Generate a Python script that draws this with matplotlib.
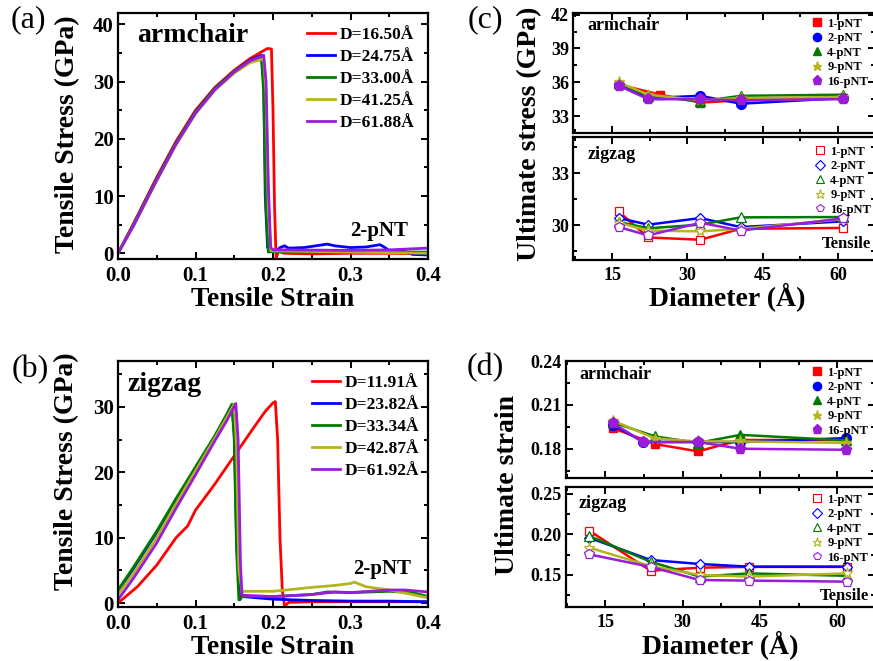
import matplotlib
matplotlib.use('Agg')
import matplotlib.pyplot as plt
from matplotlib.ticker import MultipleLocator, FormatStrFormatter
from matplotlib.lines import Line2D

plt.rcParams['font.family'] = ['Liberation Serif', 'DejaVu Serif']
plt.rcParams['font.weight'] = 'bold'
plt.rcParams['axes.labelweight'] = 'bold'
plt.rcParams['axes.linewidth'] = 1.6

colors = ['#ff0000', '#0000ff', '#007a00', '#b4b41e', '#9a1cd8']

# ---------------- (a) armchair stress-strain ----------------
a_labels = ['D=16.50Å', 'D=24.75Å', 'D=33.00Å', 'D=41.25Å', 'D=61.88Å']
a_strain = [
    [0, 0.02, 0.05, 0.075, 0.1, 0.125, 0.15, 0.17, 0.185, 0.193, 0.198, 0.2, 0.202, 0.204, 0.207, 0.215, 0.25, 0.3, 0.35, 0.4],
    [0, 0.02, 0.05, 0.075, 0.1, 0.125, 0.15, 0.17, 0.185, 0.188, 0.19, 0.193, 0.197, 0.205, 0.209, 0.215, 0.22, 0.24, 0.26, 0.27, 0.28, 0.3, 0.32, 0.338, 0.342, 0.35, 0.37, 0.38, 0.4],
    [0, 0.02, 0.05, 0.075, 0.1, 0.125, 0.15, 0.17, 0.185, 0.188, 0.191, 0.194, 0.198, 0.21, 0.3, 0.4],
    [0, 0.02, 0.05, 0.075, 0.1, 0.125, 0.15, 0.17, 0.188, 0.191, 0.194, 0.197, 0.2, 0.21, 0.3, 0.4],
    [0, 0.02, 0.05, 0.075, 0.1, 0.125, 0.15, 0.17, 0.188, 0.191, 0.194, 0.197, 0.2, 0.21, 0.3, 0.35, 0.4],
]
a_stress = [
    [0, 5.2, 13.3, 19.6, 25.0, 29.0, 32.0, 34.0, 35.2, 35.8, 35.7, 25, 8, -0.8, 0.3, 0.0, -0.1, 0.0, 0.0, -0.1],
    [0, 5.0, 13.0, 19.3, 24.7, 28.8, 31.8, 33.7, 34.6, 30, 10, 1.0, 0.3, 0.5, 1.0, 1.3, 0.9, 1.0, 1.4, 1.6, 1.3, 1.0, 1.1, 1.5, 1.2, 0.5, 0.3, -0.2, -0.3],
    [0, 5.0, 13.0, 19.3, 24.7, 28.8, 31.8, 33.6, 34.3, 28, 8, 0.2, 0.3, 0.3, 0.3, 0.2],
    [0, 4.8, 12.7, 19.0, 24.4, 28.5, 31.5, 33.3, 34.0, 28, 8, 0.5, 0.4, 0.4, 0.2, 0.0],
    [0, 4.8, 12.8, 19.1, 24.5, 28.6, 31.7, 33.6, 34.6, 30, 12, 1.0, 0.6, 0.6, 0.5, 0.6, 0.9],
]

# ---------------- (b) zigzag stress-strain ----------------
b_labels = ['D=11.91Å', 'D=23.82Å', 'D=33.34Å', 'D=42.87Å', 'D=61.92Å']
b_strain = [
    [0, 0.025, 0.05, 0.075, 0.09, 0.1, 0.125, 0.15, 0.175, 0.19, 0.2, 0.203, 0.206, 0.209, 0.212, 0.215, 0.22, 0.25, 0.3, 0.4],
    [0, 0.02, 0.05, 0.075, 0.1, 0.125, 0.14, 0.147, 0.15, 0.153, 0.157, 0.16, 0.2, 0.25, 0.3, 0.35, 0.4],
    [0, 0.02, 0.05, 0.075, 0.1, 0.125, 0.14, 0.147, 0.15, 0.153, 0.156, 0.16, 0.2, 0.25, 0.27, 0.3, 0.35, 0.38, 0.4],
    [0, 0.02, 0.05, 0.075, 0.1, 0.125, 0.14, 0.15, 0.153, 0.156, 0.16, 0.2, 0.25, 0.28, 0.3, 0.305, 0.32, 0.35, 0.38, 0.4],
    [0, 0.02, 0.05, 0.075, 0.1, 0.125, 0.14, 0.152, 0.155, 0.158, 0.16, 0.2, 0.25, 0.28, 0.3, 0.35, 0.37, 0.4],
]
b_stress = [
    [0, 2.5, 5.8, 10.0, 11.8, 14.2, 18.2, 22.5, 26.8, 29.3, 30.6, 30.8, 25, 10, 2, -0.5, 0.1, 0.2, 0.2, 0.2],
    [1.8, 5.3, 10.8, 15.8, 20.6, 25.4, 28.6, 30.2, 26, 10, 0.5, 1.0, 0.6, 0.4, 0.3, 0.3, 0.2],
    [2.0, 5.5, 11.0, 16.0, 20.8, 25.6, 28.8, 30.4, 25, 8, 0.5, 1.0, 1.0, 1.3, 1.7, 1.6, 1.8, 1.6, 1.0],
    [1.3, 4.5, 10.0, 15.2, 20.2, 25.2, 28.3, 30.4, 24, 5, 1.8, 1.8, 2.4, 2.7, 3.0, 3.2, 2.5, 2.0, 1.3, 0.8],
    [0.5, 3.8, 9.2, 14.5, 19.6, 24.8, 27.8, 30.5, 25, 6, 1.2, 1.0, 1.3, 1.7, 1.6, 2.0, 2.0, 1.7],
]

# ---------------- (c) ultimate stress ----------------
pnt_labels = ['1-pNT', '2-pNT', '4-pNT', '9-pNT', '16-pNT']
c_arm_d = [
    [16.3, 24.6, 32.6, 40.6, 61.0],
    [16.3, 22.2, 32.6, 40.6, 61.0],
    [16.3, 22.2, 32.6, 40.6, 61.0],
    [16.3, 22.2, 32.6, 40.6, 61.0],
    [16.3, 22.2, 32.6, 40.6, 61.0],
]
c_arm_stress = [
    [35.8, 34.9, 34.2, 34.4, 34.6],
    [35.8, 34.6, 34.8, 34.1, 34.6],
    [35.9, 34.8, 34.3, 34.8, 34.9],
    [36.0, 34.9, 34.4, 34.6, 34.7],
    [35.7, 34.5, 34.5, 34.4, 34.5],
]
c_zig_d = [16.3, 22.2, 32.6, 40.6, 61.0]
c_zig_stress = [
    [30.8, 29.3, 29.17, 29.8, 29.85],
    [30.42, 30.04, 30.42, 29.9, 30.23],
    [30.2, 29.83, 30.04, 30.46, 30.48],
    [30.15, 29.7, 29.65, 29.8, 30.35],
    [29.9, 29.42, 30.15, 29.7, 30.4],
]

# ---------------- (d) ultimate strain ----------------
d_arm_d = [
    [16.5, 24.7, 33.0, 41.2, 61.7],
    [16.5, 22.4, 33.0, 41.2, 61.7],
    [16.5, 24.7, 33.0, 41.2, 61.7],
    [16.5, 24.7, 33.0, 41.2, 61.7],
    [16.5, 22.4, 33.0, 41.2, 61.7],
]
d_arm_strain = [
    [0.1941, 0.1832, 0.1782, 0.1860, 0.1860],
    [0.1964, 0.1846, 0.1846, 0.1845, 0.1873],
    [0.1980, 0.1884, 0.1840, 0.1895, 0.1857],
    [0.1993, 0.1870, 0.1850, 0.1850, 0.1840],
    [0.1975, 0.1846, 0.1846, 0.1800, 0.1793],
]
d_zig_d = [11.9, 23.8, 33.3, 42.8, 61.9]
d_zig_strain = [
    [0.2047, 0.1553, 0.1590, 0.1600, 0.1600],
    [0.1960, 0.1685, 0.1636, 0.1603, 0.1603],
    [0.1981, 0.1664, 0.1480, 0.1520, 0.1490],
    [0.1837, 0.1610, 0.1500, 0.1480, 0.1520],
    [0.1755, 0.1600, 0.1438, 0.1431, 0.1418],
]

filled_markers = ['s', 'o', '^', '*', 'p']
open_markers = ['s', 'D', '^', '*', 'p']
filled_sizes = [6, 7, 7, 8, 8]
open_sizes = [6, 5.5, 6.5, 8, 7]

W, H = 873, 661
fig = plt.figure(figsize=(W / 100, H / 100), dpi=100)


def add_ax(l, t, r, b):
    return fig.add_axes([l / W, 1 - b / H, (r - l) / W, (b - t) / H])


def style(ax, xmaj, xmin, ymaj, ymin, size):
    ax.xaxis.set_major_locator(MultipleLocator(xmaj))
    ax.xaxis.set_minor_locator(MultipleLocator(xmin))
    ax.yaxis.set_major_locator(MultipleLocator(ymaj))
    ax.yaxis.set_minor_locator(MultipleLocator(ymin))
    ax.tick_params(which='both', direction='in', top=True, right=True, width=1.4, labelsize=size)
    ax.tick_params(axis='x', which='both', pad=5)
    ax.tick_params(axis='y', which='both', pad=3)
    ax.tick_params(which='major', length=5)
    ax.tick_params(which='minor', length=3)


# (a)
axa = add_ax(118, 13, 428, 259)
for s, v, c, lab in zip(a_strain, a_stress, colors, a_labels):
    axa.plot(s, v, color=c, lw=2.0, label=lab)
axa.set_xlim(0, 0.4)
axa.set_ylim(-1, 42)
style(axa, 0.1, 0.05, 10, 5, 15)
axa.xaxis.set_major_formatter(FormatStrFormatter('%.1f'))
axa.legend(loc='upper left', bbox_to_anchor=(0.61, 0.945), frameon=False, fontsize=12.5,
           handlelength=1.6, handletextpad=0.3, labelspacing=0.34, borderpad=0, borderaxespad=0)
axa.text(0.061, 0.882, 'armchair', transform=axa.transAxes, fontsize=20, va='baseline')
axa.text(0.748, 0.0935, '2-pNT', transform=axa.transAxes, fontsize=15, va='baseline')
axa.set_xlabel('Tensile Strain', fontsize=20, labelpad=1)
fig.text(68 / W, 1 - 134 / H, 'Tensile Stress (GPa)', rotation=90, fontsize=20, ha='center', va='center')
fig.text(28 / W, 1 - 20 / H, '(a)', fontsize=23, weight='normal', ha='center', va='center')

# (b)
axb = add_ax(118, 361, 428, 607)
for s, v, c, lab in zip(b_strain, b_stress, colors, b_labels):
    axb.plot(s, v, color=c, lw=2.0, label=lab)
axb.set_xlim(0, 0.4)
axb.set_ylim(-0.6, 37)
style(axb, 0.1, 0.05, 10, 5, 15)
axb.xaxis.set_major_formatter(FormatStrFormatter('%.1f'))
axb.legend(loc='upper left', bbox_to_anchor=(0.625, 0.945), frameon=False, fontsize=12.5,
           handlelength=1.6, handletextpad=0.3, labelspacing=0.34, borderpad=0, borderaxespad=0)
axb.text(0.029, 0.879, 'zigzag', transform=axb.transAxes, fontsize=20, va='baseline')
axb.text(0.758, 0.134, '2-pNT', transform=axb.transAxes, fontsize=15, va='baseline')
axb.set_xlabel('Tensile Strain', fontsize=20, labelpad=1)
fig.text(67 / W, 1 - 471 / H, 'Tensile Stress (GPa)', rotation=90, fontsize=20, ha='center', va='center')
fig.text(30 / W, 1 - 370 / H, '(b)', fontsize=23, weight='normal', ha='center', va='center')


def marker_panel(ax_up, ax_lo, up_x, up_y, lo_x, lo_y, legpos_up, legpos_lo):
    for xs, ys, c, m, ms in zip(up_x, up_y, colors, filled_markers, filled_sizes):
        ax_up.plot(xs, ys, color=c, lw=1.8, marker=m, ms=ms, mfc=c, mec=c)
    for i, (ys, c, m, ms) in enumerate(zip(lo_y, colors, open_markers, open_sizes)):
        xs = lo_x[i] if isinstance(lo_x[0], list) else lo_x
        ax_lo.plot(xs, ys, color=c, lw=1.8, marker=m, ms=ms, mfc='white', mec=c, mew=0.9)
    hu = [Line2D([], [], ls='none', marker=m, ms=ms * 0.85, color=c, mfc=c, mec=c)
          for c, m, ms in zip(colors, filled_markers, filled_sizes)]
    hl = [Line2D([], [], ls='none', marker=m, ms=ms * 0.85, color=c, mfc='white', mec=c, mew=0.8)
          for c, m, ms in zip(colors, open_markers, open_sizes)]
    for ax, h, pos in ((ax_up, hu, legpos_up), (ax_lo, hl, legpos_lo)):
        ax.legend(h, pnt_labels, loc='upper left', bbox_to_anchor=pos, frameon=False, fontsize=9,
                  handlelength=0.8, handletextpad=0.45, labelspacing=0.2, borderpad=0, borderaxespad=0)


# (c)
axc1 = add_ax(573, 13, 875, 133)
axc2 = add_ax(573, 137, 875, 260)
marker_panel(axc1, axc2, c_arm_d, c_arm_stress, c_zig_d, c_zig_stress, (0.79, 0.96), (0.80, 0.93))
for ax in (axc1, axc2):
    ax.set_xlim(7.2, 67.4)
    style(ax, 15, 7.5, 3, 1.5, 13)
axc1.set_ylim(31.5, 42.15)
axc2.set_ylim(28.0, 35.1)
axc1.tick_params(labelbottom=False)
axc1.text(0.047, 0.858, 'armchair', transform=axc1.transAxes, fontsize=13, va='baseline')
axc2.text(0.047, 0.819, 'zigzag', transform=axc2.transAxes, fontsize=13, va='baseline')
axc2.text(0.824, 0.095, 'Tensile', transform=axc2.transAxes, fontsize=12, va='baseline')
fig.text(727 / W, 1 - 297 / H, 'Diameter (Å)', fontsize=20, ha='center', va='center')
fig.text(530 / W, 1 - 134 / H, 'Ultimate stress (GPa)', rotation=90, fontsize=20, ha='center', va='center')
fig.text(485 / W, 1 - 20 / H, '(c)', fontsize=23, weight='normal', ha='center', va='center')

# (d)
axd1 = add_ax(566, 361, 875, 478)
axd2 = add_ax(566, 487, 875, 607)
marker_panel(axd1, axd2, d_arm_d, d_arm_strain, d_zig_d, d_zig_strain, (0.795, 0.95), (0.795, 0.945))
for ax in (axd1, axd2):
    ax.set_xlim(7.4, 67.3)
style(axd1, 15, 7.5, 0.03, 0.015, 13)
style(axd2, 15, 7.5, 0.05, 0.025, 13)
axd1.set_ylim(0.160, 0.240)
axd2.set_ylim(0.1105, 0.2586)
axd1.yaxis.set_major_formatter(FormatStrFormatter('%.2f'))
axd2.yaxis.set_major_formatter(FormatStrFormatter('%.2f'))
axd1.tick_params(labelbottom=False)
axd1.text(0.042, 0.844, 'armchair', transform=axd1.transAxes, fontsize=13, va='baseline')
axd2.text(0.042, 0.8275, 'zigzag', transform=axd2.transAxes, fontsize=13, va='baseline')
axd2.text(0.82, 0.058, 'Tensile', transform=axd2.transAxes, fontsize=12, va='baseline')
fig.text(720 / W, 1 - 645 / H, 'Diameter (Å)', fontsize=20, ha='center', va='center')
fig.text(507 / W, 1 - 485 / H, 'Ultimate strain', rotation=90, fontsize=20, ha='center', va='center')
fig.text(485 / W, 1 - 368 / H, '(d)', fontsize=23, weight='normal', ha='center', va='center')

fig.savefig('out.png', dpi=100)
